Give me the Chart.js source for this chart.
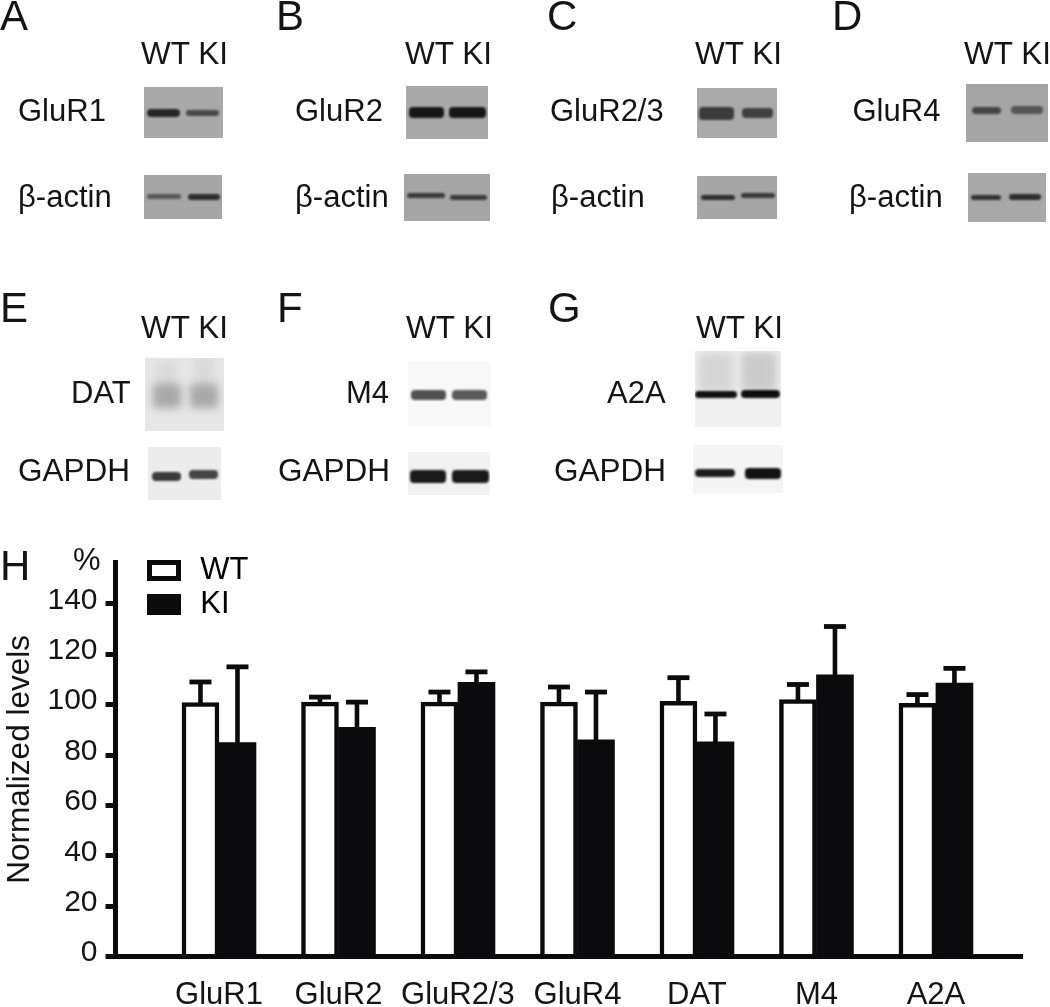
<!DOCTYPE html>
<html><head><meta charset="utf-8">
<script src="https://cdn.jsdelivr.net/npm/chart.js@4"></script>
<style>
html,body{margin:0;padding:0;background:#fff;overflow:hidden}
#stage{position:relative;width:1050px;height:1007px;overflow:hidden;font-family:"Liberation Sans",Arial,sans-serif;color:#141414}
canvas{position:absolute;left:0;top:0}
.t{position:absolute;white-space:nowrap;line-height:1}
.blot{position:absolute;overflow:hidden;box-sizing:border-box}
.band{position:absolute;border-radius:4px}
</style></head><body><div id="stage"><canvas id="c" width="1050" height="1007"></canvas></div>
<script>
const categories = ['GluR1','GluR2','GluR2/3','GluR4','DAT','M4','A2A'];
const seriesNames = ['WT','KI'];
const wtValues = [100.8,101,101,101,101.3,102,100.5];
const kiValues = [85,91,108.9,86,85.3,111.8,108.6];
const wtUpperError = [109,103,105,107,110.7,108,104];
const kiUpperError = [115,101,113,105,96.3,131,114.4];
const yTicksMax = 156.6;
const ink = '#0b0b0d';

/* page text: [text, left, baseline, size] */
const pageText = [
 ['A',0,31,42],['B',276,31,42],['C',547,31,42],['D',832,31,42],
 ['E',0,322.5,42],['F',277,322.5,42],['G',548,322.5,42],['H',0,580.7,42],
 ['WT KI',141,64.5,31.5],['WT KI',405,64.5,31.5],['WT KI',695,64.5,31.5],['WT KI',964,64.5,31.5],
 ['WT KI',141,339,31.5],['WT KI',406,339,31.5],['WT KI',696,339,31.5],
 ['GluR1',18,121,31],['GluR2',295,121,31],['GluR2/3',550,121,31],['GluR4',852.5,121,31],
 ['β-actin',18,207,31],['β-actin',295,207,31],['β-actin',551,207,31],['β-actin',849,207,31],
 ['DAT',71,403,31],['M4',346,403,31],['A2A',607,403,31],
 ['GAPDH',18,482,31.5],['GAPDH',278,482,31.5],['GAPDH',554,482,31.5],
 ['%',73,570,31]
];
/* decorative blot photographs: box, background, bands */
const blotImages = [
 [144,87,79,51,'#a9a9a9',[[147,113,33,8,'#252525'],[186,113,33,6,'#484848']]],
 [144,175,78,44,'#a6a6a6',[[147,196,34,5,'#5a5a5a'],[188,197,32,6,'#2b2b2b']]],
 [406,86,82,53,'#a9a9a9',[[409,112,35,11,'#161616'],[449,112,37,11,'#161616']]],
 [404,174,86,47,'#a5a5a5',[[407,195,38,5,'#3a3a3a'],[450,197,37,5,'#3a3a3a']]],
 [697,88,80,50,'#aaaaaa',[[699,113,35,13,'#3c3c3c'],[742,113,31,10,'#3f3f3f']]],
 [697,176,80,43,'#a6a6a6',[[701,197,34,5,'#2f2f2f'],[741,195,34,5,'#3a3a3a']]],
 [966,84,82,58,'#a5a5a5',[[972,110,29,7,'#444'],[1011,110,32,8,'#555']]],
 [968,173,78,49,'#a8a8a8',[[971,197,30,5,'#333'],[1009,197,32,6,'#2c2c2c']]],
 [145,358,79,73,'#e6e6e6',[[157,380,20,40,'#dadada'],[194,375,20,45,'#dadada'],[153,396,28,24,'#a8a8a8'],[190,396,28,24,'#a8a8a8']]],
 [148,447,73,53,'#ececec',[[152,476,29,9,'#3a3a3a'],[189,474,29,9,'#454545']]],
 [408,362,83,65,'#f8f8f8',[[411,395,35,10,'#505050'],[452,395,35,10,'#5a5a5a']]],
 [408,452,82,43,'#f2f2f2',[[410,476,36,13,'#1a1a1a'],[452,476,37,13,'#1a1a1a']]],
 [695,351,86,76,'#f0f0f0',[[698,372,36,40,'#d6d6d6'],[741,372,36,40,'#cacaca'],[695,394,42,7,'#111'],[741,394,39,8,'#0c0c0c']]],
 [693,445,90,48,'#f4f4f4',[[695,473,40,8,'#1c1c1c'],[745,473,36,11,'#111']]]
];

const stage = document.getElementById('stage');
blotImages.forEach(([x,y,w,h,bg,bands])=>{
  const b=document.createElement('div');b.className='blot';
  b.style.cssText=`left:${x}px;top:${y}px;width:${w}px;height:${h}px;background:${bg}`;
  bands.forEach(([bx,cy,bw,bh,col])=>{
    const d=document.createElement('div');d.className='band';
    d.style.cssText=`left:${bx-x}px;top:${cy-bh/2-y}px;width:${bw}px;height:${bh}px;background:${col};filter:blur(${bh>15?4:1.2}px)`;
    b.appendChild(d);
  });
  stage.appendChild(b);
});
pageText.forEach(([s,x,base,size])=>{
  const e=document.createElement('div');e.className='t';e.textContent=s;
  e.style.cssText=`left:${x}px;top:${base-0.8465*size}px;font-size:${size}px`;
  stage.appendChild(e);
});

const errorBars = {
  id:'errorBars',
  afterDatasetsDraw(chart){
    const {ctx,scales:{y}}=chart;
    [wtUpperError,kiUpperError].forEach((errs,d)=>{
      chart.getDatasetMeta(d).data.forEach((bar,i)=>{
        const py=y.getPixelForValue(errs[i]);
        ctx.save();ctx.fillStyle=ink;
        ctx.fillRect(bar.x-2.3,py,4.6,bar.y-py+1);
        ctx.fillRect(bar.x-11,py-2.4,22,4.8);
        ctx.restore();
      });
    });
  }
};
const legendPlacer = {
  id:'legendPlacer',
  afterLayout(chart){
    const l=chart.legend;
    l.left=146.5;l.right=l.left+l.width;
    l.top=552;l.bottom=l.top+l.height;
  }
};

Chart.defaults.font.family='"Liberation Sans",Arial,sans-serif';
Chart.defaults.color='#141414';

const toPoints = vals => vals.map((v,i)=>({x:i+1,y:v}));

new Chart(document.getElementById('c'),{
  type:'bar',
  data:{datasets:[
    {label:seriesNames[0],data:toPoints(wtValues),backgroundColor:'#ffffff',borderColor:ink,borderWidth:4.5,borderSkipped:'bottom',barThickness:37},
    {label:seriesNames[1],data:toPoints(kiValues),backgroundColor:ink,borderColor:ink,borderWidth:0,barThickness:37}
  ]},
  plugins:[errorBars,legendPlacer],
  options:{
    responsive:false,animation:false,
    layout:{autoPadding:false,padding:{top:562,right:27.3,left:0,bottom:0}},
    plugins:{
      tooltip:{enabled:false},
      legend:{
        position:'chartArea',align:'start',
        labels:{boxWidth:29,boxHeight:16,padding:3,color:'#141414',font:{size:31},
          generateLabels(chart){
            return chart.data.datasets.map((d,i)=>({text:'\u2009'+d.label,fillStyle:d.backgroundColor,strokeStyle:ink,lineWidth:5,datasetIndex:i}));
          }}
      }
    },
    scales:{
      x:{
        type:'linear',offset:false,min:0.134,max:7.726,
        grid:{display:false,offset:false,drawTicks:false},
        border:{display:true,color:ink,width:5,z:1},
        ticks:{stepSize:1,includeBounds:false,autoSkip:false,maxRotation:0,padding:20,color:'#141414',font:{size:31},
          callback:v=>categories[v-1]||''},
        afterFit(s){s.height=50.3;}
      },
      y:{
        min:0,max:yTicksMax,
        grid:{drawOnChartArea:false,drawTicks:true,tickLength:10,tickWidth:5,tickColor:ink,color:ink},
        border:{display:true,color:ink,width:5},
        ticks:{stepSize:20,includeBounds:false,padding:8,labelOffset:-3.5,color:'#141414',font:{size:30}},
        title:{display:true,text:'Normalized levels',color:'#141414',font:{size:31.5,lineHeight:1.2},padding:{top:1,bottom:0}},
        afterFit(s){s.width=115.5;}
      }
    }
  }
});
</script></body></html>
